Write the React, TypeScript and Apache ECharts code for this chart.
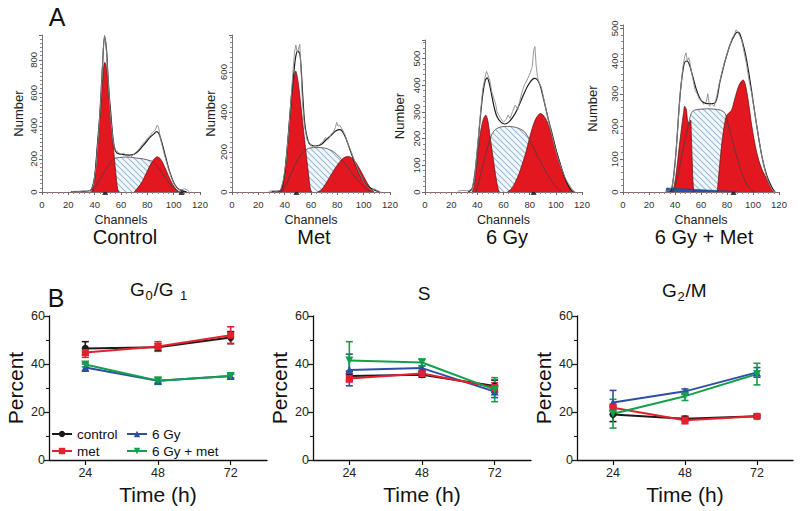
import React, { useEffect, useRef } from "react";
import * as echarts from "echarts";

const FONT = '"Liberation Sans", Arial, Helvetica, sans-serif';

// ---------------- Panel A : DNA content histograms ([channel, count]) ----------------
const histTitles = ["Control", "Met", "6 Gy", "6 Gy + Met"];
const histYMax = [950, 785, 570, 510];
const histYStep = [200, 200, 100, 100];

const ctrlRed1 = [[36,0],[37.7,5],[40,90],[42,260],[44,450],[46,680],[47.6,785],[48.6,770],[50,650],[52,470],[54,290],[56,120],[57.5,15],[58.5,0]];
const ctrlS = [[38,0],[42,50],[46,105],[50,155],[54,198],[57,207],[61,210],[65,212],[69,208],[73,204],[77,200],[81,192],[84,185],[88,150],[92,105],[96,60],[100,25],[103,5],[105,0]];
const ctrlRed2 = [[70,0],[73,28],[76,62],[79,110],[82,160],[85,198],[87.5,213],[90,200],[93,155],[96,100],[99,50],[102,15],[104.5,0]];
const ctrlFit = [[22,2],[30,4],[35,6],[37.5,15],[40,95],[42,280],[44,480],[46,770],[47.5,940],[49,860],[50,720],[51,590],[52,500],[53,400],[54,320],[55,270],[56,245],[58,232],[62,226],[66,223],[70,228],[74,254],[78,292],[82,330],[85,352],[87,365],[89,350],[91,300],[93,240],[95,178],[97,122],[100,58],[103,22],[106,8],[110,0]];
const ctrlRaw = [[22,0],[25,5],[28,3],[32,6],[35,5],[37,12],[39,40],[41,150],[43,360],[45,600],[46.5,860],[47.5,950],[48.5,900],[49.5,780],[50.5,640],[51.5,520],[52.5,420],[53.5,340],[54.5,285],[56,252],[58,240],[60,228],[62,236],[64,220],[66,230],[68,214],[70,232],[72,244],[74,262],[76,288],[78,302],[80,325],[82,340],[84,362],[86,375],[87.5,405],[88.5,392],[90,322],[92,256],[94,196],[96,142],[98,92],[100,54],[102,30],[104,16],[106,12],[108,20],[110,14],[112,0]];
const ctrlMarks = [48, 106];

const metRed1 = [[35,0],[37,12],[40,88],[42.5,255],[45,455],[47,570],[48.3,605],[50,560],[52,450],[54,330],[56,210],[58,95],[59.5,15],[60.5,0]];
const metS = [[38,0],[42,50],[46,110],[50,162],[54,200],[58,218],[62,222],[66,222],[70,220],[74,212],[78,197],[82,172],[86,140],[90,105],[94,70],[98,40],[102,15],[106,0]];
const metRed2 = [[65,0],[68,12],[71,40],[74,72],[77,105],[80,135],[83,160],[86,175],[88.5,178],[91,170],[94,148],[97,115],[100,78],[103,42],[106,12],[108,0]];
const metFit = [[30,2],[35,4],[37.5,10],[40,95],[42.5,265],[45,470],[47,600],[48.5,680],[50,705],[51.5,690],[52.5,620],[53.75,480],[55,360],[56.5,290],[58.75,242],[62.5,230],[67.5,236],[71.25,260],[75,282],[78.75,305],[82,312],[84,302],[86.25,272],[90,205],[93.75,138],[97.5,80],[102.5,30],[107.5,12],[112,0]];
const metRaw = [[28,3],[31,6],[34,3],[37,10],[39,60],[41,150],[43,300],[45,480],[46.5,620],[47.5,700],[48.5,735],[49.5,700],[50.5,715],[51.5,738],[52.5,600],[53.5,450],[55,330],[57,262],[59,245],[61,226],[63,234],[65,228],[67,242],[69,250],[71,272],[73,262],[75,286],[77,300],[78.5,322],[79.5,348],[80.5,330],[82,332],[84,310],[86,282],[88,242],[90,210],[92,175],[94,140],[96,105],[98,76],[100,50],[102,32],[104,20],[106,10],[108,16],[110,8],[113,0]];
const metMarks = [49];

const gyRed1 = [[36,0],[37.5,20],[39.5,100],[42,212],[44.5,272],[46.5,288],[48,268],[50,200],[52,130],[54,62],[56,10],[57,0]];
const gyS = [[39,0],[42,55],[45,115],[48,170],[51,215],[54,235],[58,244],[63,246],[68,244],[72,238],[76,226],[79.5,200],[83,165],[87,125],[91,88],[95,55],[99,25],[102,10],[105,0]];
const gyRed2 = [[63,0],[66,12],[69,37],[72,70],[74,100],[76,130],[78,165],[80,205],[82,240],[84,268],[86,285],[88,294],[90,290],[93,268],[96,225],[99,180],[102,125],[105,80],[108,40],[111,12],[113,0]];
const gyFit = [[33,0],[36,12],[38,65],[40,155],[42,265],[44,360],[46,418],[47.5,428],[49,410],[51,362],[53,315],[55,283],[58,262],[61,255],[64,262],[67,280],[70,305],[73,338],[76,372],[79,402],[82,422],[84,426],[86,420],[88,400],[90,362],[92,320],[94,278],[96,240],[98,202],[100,160],[102,128],[104,95],[106,64],[108,40],[110,20],[112,6],[114,0]];
const gyRaw = [[25,3],[29,6],[33,4],[36,12],[38,58],[40,165],[42,272],[44,382],[46,432],[47,452],[48,440],[49.5,418],[51,378],[52.5,352],[54,330],[55,302],[56,292],[58,275],[60,262],[62,272],[63.5,288],[65,276],[67,302],[69,326],[71,310],[72,332],[74,372],[76,402],[78,420],[80,442],[82,470],[83,530],[84,545],[85,472],[86,432],[87,412],[89,392],[91,345],[93,298],[95,256],[97,215],[99,172],[101,136],[103,106],[105,80],[107,55],[109,36],[111,22],[113,6],[115,0]];
const gyMarks = [83];

const gmRed1 = [[37,0],[38.6,5],[41,60],[43,130],[45,195],[46.5,240],[47.5,262],[48.8,250],[49.8,215],[51,212],[52,220],[52.6,170],[53.2,100],[53.8,35],[54.5,0]];
const gmHatch = [[50.5,0],[51,110],[51.6,200],[52.5,235],[54,248],[57,252],[62,254],[67,254],[72,252],[76,248],[78.5,238],[79.5,215],[80.3,160],[80.8,80],[81.2,0]];
const gmS = [[38,0],[41,30],[44,85],[47,145],[50,200],[52.5,240],[55,250],[60,253],[65,254],[70,253],[75,250],[78.5,240],[81,205],[84,160],[87,115],[90,75],[93,42],[96,18],[99,5],[101,0]];
const gmRed2 = [[72.5,0],[73.5,45],[75,110],[76.5,165],[78,205],[79.5,232],[81.5,242],[83.5,250],[86,285],[88.7,321],[91,338],[92.5,342],[94,330],[96.4,278],[99,204],[102.8,122],[106.7,71],[111.8,31],[114,12],[116,0]];
const gmBlue = [[33,0],[33.5,12],[40,11],[50,9],[60,7],[70,5],[80,3],[86,2],[88,0]];
const gmFit = [[36,0],[37.5,10],[39,50],[41,133],[43.7,286],[46.3,377],[48.5,400],[50.5,395],[52.7,367],[56.6,311],[60.4,278],[65,270],[70.7,272],[74.6,337],[78.4,398],[82.3,449],[86,480],[88,488],[90,482],[93.8,428],[96.5,370],[99,306],[102.8,204],[106.7,112],[110.5,51],[114.4,15],[117,0]];
const gmRaw = [[33,2],[36,5],[38,20],[40,80],[42,190],[44,300],[46,380],[47.5,415],[48.5,425],[49.5,400],[50.5,410],[51.5,395],[52.5,370],[54,340],[55.5,310],[57,300],[58.5,285],[60,280],[62,268],[64,275],[65.3,300],[66.5,262],[68,270],[70,262],[72,290],[74,330],[76,365],[78,395],[80,420],[82,445],[84,470],[85.5,480],[87,495],[88.5,488],[90,475],[91.5,460],[93,430],[95,390],[97,340],[99,300],[101,250],[103,200],[105,150],[107,105],[109,70],[111,40],[113,20],[115,5],[117,0]];
const gmMarks = [85];

// ---------------- Panel B : cell-cycle phase percentages ----------------
const times = [24, 48, 72];
const groups = ["control", "met", "6 Gy", "6 Gy + met"];
const phaseTitles = ["G0/G1", "S", "G2/M"];

const g1Control = [46.5, 47, 51];     const g1ControlErr = [2.8, 1.5, 2.5];
const g1Met = [44.8, 47.3, 52];       const g1MetErr = [2, 2, 3.5];
const g1Gy = [38.5, 33, 35];          const g1GyErr = [1.5, 1, 0.8];
const g1GyMet = [39.8, 33, 35];       const g1GyMetErr = [1, 1.5, 0.8];

const sControl = [35, 35.5, 30.8];    const sControlErr = [2, 1, 2.5];
const sMet = [34, 36, 30.2];          const sMetErr = [1.5, 1, 2];
const sGy = [37.5, 38.3, 28.5];       const sGyErr = [6.6, 1, 2.5];
const sGyMet = [41.5, 40.6, 29.3];    const sGyMetErr = [7.8, 1.5, 5];

const g2Control = [19, 17.2, 18.2];   const g2ControlErr = [3, 1, 0.5];
const g2Met = [21.8, 16.6, 18.2];     const g2MetErr = [1.5, 1.5, 0.7];
const g2Gy = [24, 28.6, 36.5];        const g2GyErr = [5, 1, 2];
const g2GyMet = [19.3, 26.6, 35.8];   const g2GyMetErr = [6, 1.8, 4.5];

export default function App() {
  const ref = useRef<HTMLDivElement>(null);

  useEffect(() => {
    if (!ref.current) return;
    const chart = echarts.init(ref.current, null, { renderer: "svg" });

    const cv = document.createElement("canvas");
    cv.width = 6; cv.height = 6;
    const ctx = cv.getContext("2d")!;
    ctx.fillStyle = "#f3f8fc"; ctx.fillRect(0, 0, 6, 6);
    ctx.strokeStyle = "#98bcdc"; ctx.lineWidth = 1.1;
    ctx.beginPath();
    ctx.moveTo(0, 0); ctx.lineTo(6, 6);
    ctx.moveTo(-1, 5); ctx.lineTo(1, 7);
    ctx.moveTo(5, -1); ctx.lineTo(7, 1);
    ctx.stroke();
    const hatch: any = { image: cv.toDataURL(), imageWidth: 6, imageHeight: 6, repeat: "repeat" };

    const hist = [
      { red1: ctrlRed1, red2: ctrlRed2, fill: ctrlS, sLine: ctrlS, fit: ctrlFit, raw: ctrlRaw, marks: ctrlMarks, blue: null as any },
      { red1: metRed1, red2: metRed2, fill: metS, sLine: metS, fit: metFit, raw: metRaw, marks: metMarks, blue: null as any },
      { red1: gyRed1, red2: gyRed2, fill: gyS, sLine: gyS, fit: gyFit, raw: gyRaw, marks: gyMarks, blue: null as any },
      { red1: gmRed1, red2: gmRed2, fill: gmHatch, sLine: gmS, fit: gmFit, raw: gmRaw, marks: gmMarks, blue: gmBlue },
    ];
    const histGrid = [
      { left: 42, top: 35, width: 158, height: 157 },
      { left: 232, top: 35, width: 158, height: 157 },
      { left: 425, top: 40, width: 157, height: 152 },
      { left: 623, top: 25, width: 156, height: 167 },
    ];
    const numberGap = [17, 15, 19, 24];
    const minorSplit = [8, 8, 5, 5];
    const titleX = [125, 314, 507, 704];

    const bGrid = [
      { left: 49, top: 316, width: 218, height: 144 },
      { left: 313, top: 316, width: 218, height: 144 },
      { left: 577, top: 316, width: 216, height: 144 },
    ];

    const grids: any[] = [];
    const xAxes: any[] = [];
    const yAxes: any[] = [];
    const series: any[] = [];

    hist.forEach((h, i) => {
      grids.push({ ...histGrid[i], containLabel: false, outerBoundsMode: "none" });
      xAxes.push({
        gridIndex: i, type: "value", min: 0, max: 120, interval: 20,
        name: "Channels", nameLocation: "middle", nameGap: 21,
        nameTextStyle: { fontFamily: FONT, fontSize: 12.5, color: "#222" },
        axisLine: { lineStyle: { color: "#8a6a6a", width: 1 } },
        axisTick: { show: true, length: 3, lineStyle: { color: "#666" } },
        minorTick: { show: true, splitNumber: 5, length: 2, lineStyle: { color: "#888" } },
        axisLabel: { fontFamily: FONT, fontSize: 9.5, color: "#333", margin: 7 },
        splitLine: { show: false },
      });
      const step = histYStep[i];
      yAxes.push({
        gridIndex: i, type: "value", min: 0, max: histYMax[i], interval: step,
        name: "Number", nameLocation: "middle", nameGap: numberGap[i],
        nameTextStyle: { fontFamily: FONT, fontSize: 13, color: "#222" },
        axisLine: { show: true, lineStyle: { color: "#777", width: 1 } },
        axisTick: { show: true, length: 3, lineStyle: { color: "#666" } },
        minorTick: { show: true, splitNumber: minorSplit[i], length: 2, lineStyle: { color: "#888" } },
        axisLabel: {
          fontFamily: FONT, fontSize: 9.5, color: "#333", rotate: 90, margin: 4,
          formatter: (v: number) => (v % step === 0 ? String(v) : ""),
        },
        splitLine: { show: false },
      });
      const ax = { xAxisIndex: i, yAxisIndex: i };
      const base = { type: "line", ...ax, showSymbol: false, symbol: "none", silent: true };
      series.push({ ...base, data: h.fill, smooth: 0.3, lineStyle: { width: 0 }, areaStyle: { color: hatch, opacity: 1 } });
      series.push({ ...base, data: h.red1, smooth: 0.3, lineStyle: { color: "#5a1010", width: 0.7 }, areaStyle: { color: "#e3171f", opacity: 1 } });
      series.push({ ...base, data: h.red2, smooth: 0.3, lineStyle: { color: "#5a1010", width: 0.7 }, areaStyle: { color: "#e3171f", opacity: 1 } });
      if (h.blue) {
        series.push({ ...base, data: h.blue, lineStyle: { color: "#1b3f8a", width: 0.6 }, areaStyle: { color: "#2257a8", opacity: 1 } });
      }
      series.push({ ...base, data: h.sLine, smooth: 0.3, lineStyle: { color: "#4a3c3c", width: 0.8 } });
      series.push({ ...base, data: h.fit, smooth: 0.3, lineStyle: { color: "#1e1e1e", width: 1.2 } });
      series.push({ ...base, data: h.raw, lineStyle: { color: "#8c8c8c", width: 0.9 } });
      series.push({
        type: "scatter", ...ax, silent: true, symbol: "triangle", symbolSize: 6,
        data: h.marks.map((c) => [c, 0]), itemStyle: { color: "#111" },
      });
    });

    const colors: Record<string, string> = {
      "control": "#1a1a1a", "met": "#e5202e", "6 Gy": "#2d4fa3", "6 Gy + met": "#13a04a",
    };
    const symbols: Record<string, any> = {
      "control": ["circle", 7], "met": ["rect", 7], "6 Gy": ["triangle", 8], "6 Gy + met": ["path://M0,0L10,0L5,9Z", 8],
    };
    const phaseData = [
      { "control": [g1Control, g1ControlErr], "met": [g1Met, g1MetErr], "6 Gy": [g1Gy, g1GyErr], "6 Gy + met": [g1GyMet, g1GyMetErr] },
      { "control": [sControl, sControlErr], "met": [sMet, sMetErr], "6 Gy": [sGy, sGyErr], "6 Gy + met": [sGyMet, sGyMetErr] },
      { "control": [g2Control, g2ControlErr], "met": [g2Met, g2MetErr], "6 Gy": [g2Gy, g2GyErr], "6 Gy + met": [g2GyMet, g2GyMetErr] },
    ];
    const drawOrder = [groups[0], groups[2], groups[1], groups[3]];

    bGrid.forEach((g, p) => {
      const gi = 4 + p;
      grids.push({ ...g, containLabel: false, outerBoundsMode: "none" });
      xAxes.push({
        gridIndex: gi, type: "value", min: 12, max: 84,
        name: "Time (h)", nameLocation: "middle", nameGap: 24,
        nameTextStyle: { fontFamily: FONT, fontSize: 21, color: "#111" },
        axisLine: { lineStyle: { color: "#111", width: 1.3 } },
        axisTick: { show: true, length: 5, customValues: times, lineStyle: { color: "#111", width: 1.2 } },
        axisLabel: { fontFamily: FONT, fontSize: 12.5, color: "#222", margin: 6, customValues: times },
        splitLine: { show: false },
      });
      yAxes.push({
        gridIndex: gi, type: "value", min: 0, max: 60, interval: 20,
        name: "Percent", nameLocation: "middle", nameGap: 23,
        nameTextStyle: { fontFamily: FONT, fontSize: 21, color: "#111" },
        axisLine: { show: true, lineStyle: { color: "#111", width: 1.3 } },
        axisTick: { show: true, length: 5, lineStyle: { color: "#111", width: 1.2 } },
        minorTick: { show: true, splitNumber: 2, length: 3, lineStyle: { color: "#111", width: 1 } },
        axisLabel: { fontFamily: FONT, fontSize: 12.5, color: "#222", margin: 4 },
        splitLine: { show: false },
      });
      drawOrder.forEach((name) => {
        const [vals, errs] = (phaseData[p] as any)[name];
        const col = colors[name];
        series.push({
          type: "custom", xAxisIndex: gi, yAxisIndex: gi, silent: true,
          data: times.map((t, k) => [t, vals[k], errs[k]]),
          encode: { x: 0, y: 1 },
          renderItem: (params: any, api: any) => {
            const x = api.value(0), y = api.value(1), e = api.value(2);
            const a = api.coord([x, y + e]);
            const b = api.coord([x, y - e]);
            const w = 3.5;
            const st = { stroke: col, lineWidth: 1.6 };
            return {
              type: "group",
              children: [
                { type: "line", shape: { x1: a[0], y1: a[1], x2: b[0], y2: b[1] }, style: st },
                { type: "line", shape: { x1: a[0] - w, y1: a[1], x2: a[0] + w, y2: a[1] }, style: st },
                { type: "line", shape: { x1: b[0] - w, y1: b[1], x2: b[0] + w, y2: b[1] }, style: st },
              ],
            };
          },
        });
        series.push({
          name, type: "line", xAxisIndex: gi, yAxisIndex: gi,
          data: times.map((t, k) => [t, vals[k]]),
          symbol: symbols[name][0], symbolSize: symbols[name][1],
          lineStyle: { color: col, width: 2 }, itemStyle: { color: col },
        });
      });
    });

    const txt = (x: number, y: number, text: string, size: number, align = "center") => ({
      type: "text", x, y, silent: true,
      style: { text, fontFamily: FONT, fontSize: size, fill: "#111", align, verticalAlign: "middle" },
    });

    // phase titles with subscripts, built from phaseTitles ("G0/G1", "S", "G2/M")
    const g1t = phaseTitles[0]; // G0/G1
    const g2t = phaseTitles[2]; // G2/M
    const graphics: any[] = [
      txt(57, 17, "A", 25),
      txt(56, 298, "B", 25),
      ...histTitles.map((t, i) => txt(titleX[i], 237, t, 20)),
      // G0/G1
      txt(130, 289, g1t.charAt(0), 19, "left"),
      txt(145.5, 295.5, g1t.charAt(1), 13, "left"),
      txt(153.5, 289, g1t.slice(2, 4), 19, "left"),
      txt(180, 295.5, g1t.charAt(4), 13, "left"),
      // S
      txt(424, 293, phaseTitles[1], 19),
      // G2/M
      txt(662, 290, g2t.charAt(0), 19, "left"),
      txt(677.5, 296.5, g2t.charAt(1), 13, "left"),
      txt(685.5, 290, g2t.slice(2), 19, "left"),
    ];

    chart.setOption({
      animation: false,
      backgroundColor: "#ffffff",
      textStyle: { fontFamily: FONT },
      grid: grids,
      xAxis: xAxes,
      yAxis: yAxes,
      series,
      legend: [
        {
          data: [groups[0], groups[1]], left: 51, top: 427, orient: "vertical",
          itemWidth: 20, itemHeight: 8, itemGap: 3, padding: 0, selectedMode: false,
          textStyle: { fontFamily: FONT, fontSize: 13.5, color: "#111" },
        },
        {
          data: [groups[2], groups[3]], left: 126, top: 427, orient: "vertical",
          itemWidth: 20, itemHeight: 8, itemGap: 3, padding: 0, selectedMode: false,
          textStyle: { fontFamily: FONT, fontSize: 13.5, color: "#111" },
        },
      ],
      graphic: graphics,
    });

    return () => chart.dispose();
  }, []);

  return (
    <div
      ref={ref}
      style={{ position: "fixed", left: 0, top: 0, width: 800, height: 511, background: "#fff" }}
    />
  );
}
